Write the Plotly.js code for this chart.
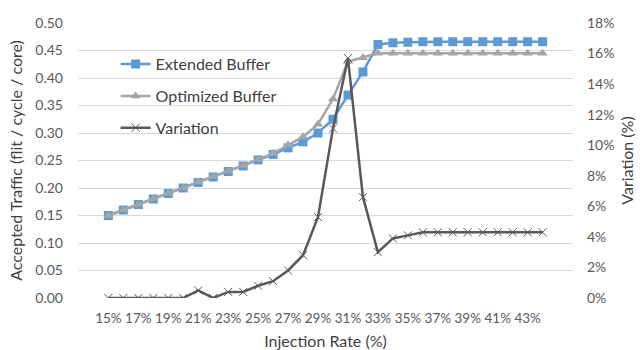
<!DOCTYPE html>
<html>
<head>
<meta charset="utf-8">
<script src="https://cdn.plot.ly/plotly-3.0.1.min.js"></script>
<style>html,body{margin:0;padding:0;background:#fff;}#chart{width:640px;height:350px;}</style>
</head>
<body>
<div id="chart"></div>
<script>
const injectionRates = ["15%","16%","17%","18%","19%","20%","21%","22%","23%","24%","25%","26%","27%","28%","29%","30%","31%","32%","33%","34%","35%","36%","37%","38%","39%","40%","41%","42%","43%","44%"];
const extendedBuffer = [0.150,0.160,0.170,0.180,0.190,0.200,0.210,0.220,0.230,0.240,0.251,0.261,0.273,0.284,0.300,0.325,0.369,0.411,0.461,0.464,0.465,0.466,0.466,0.466,0.466,0.466,0.466,0.466,0.466,0.466];
const optimizedBuffer = [0.150,0.160,0.170,0.180,0.190,0.200,0.211,0.221,0.231,0.241,0.252,0.263,0.278,0.293,0.316,0.362,0.430,0.437,0.445,0.445,0.445,0.445,0.445,0.445,0.445,0.445,0.445,0.445,0.445,0.445];
const variation = [0,0,0,0,0,0,0.5,0,0.4,0.4,0.8,1.1,1.8,2.8,5.3,11.1,15.7,6.6,3.0,3.9,4.1,4.3,4.3,4.3,4.3,4.3,4.3,4.3,4.3,4.3];
const tickLabels = ["15%","17%","19%","21%","23%","25%","27%","29%","31%","33%","35%","37%","39%","41%","43%"];

const fam = "Lato, 'Open Sans', sans-serif";
const tickFont = {family: fam, size: 14, color: "#595959"};
const xTickFont = {family: fam, size: 13.5, color: "#595959"};
const titleFont = {family: fam, size: 16, color: "#404040"};

const traces = [
  {x: injectionRates, y: extendedBuffer, name: "Extended Buffer", type: "scatter", mode: "lines+markers",
   line: {color: "#5b9bd5", width: 2.5}, marker: {symbol: "square", size: 9, color: "#5b9bd5"}, legendgroup: "a"},
  {x: injectionRates, y: optimizedBuffer, name: "Optimized Buffer", type: "scatter", mode: "lines+markers",
   line: {color: "#a5a5a5", width: 2.5}, marker: {symbol: "triangle-up", size: 9, color: "#a5a5a5"}, legendgroup: "b"},
  {x: injectionRates, y: variation, name: "Variation", type: "scatter", mode: "lines+markers", yaxis: "y2",
   line: {color: "#595959", width: 2.5}, marker: {symbol: "x-thin-open", size: 8, color: "#595959", line: {width: 1, color: "#595959"}}, legendgroup: "c"}
];

const layout = {
  width: 640, height: 350,
  margin: {l: 78, r: 67, t: 23, b: 52},
  paper_bgcolor: "#fff", plot_bgcolor: "#fff",
  font: tickFont,
  showlegend: true,
  legend: {x: 0.076, y: 0.912, xanchor: "left", yanchor: "top", bgcolor: "rgba(255,255,255,0)",
           font: {family: fam, size: 16, color: "#404040"}, traceorder: "grouped", tracegroupgap: 8},
  xaxis: {type: "category", tickmode: "array", tickvals: tickLabels, ticktext: tickLabels, tickfont: xTickFont, tickangle: 0,
          showgrid: false, zeroline: false, showline: false, ticks: "", ticklabelstandoff: 10,
          title: {text: "Injection Rate (%)", font: titleFont, standoff: 11}},
  yaxis: {range: [0, 0.5], dtick: 0.05, tickformat: ".2f", tickfont: tickFont, showgrid: true, gridcolor: "#d9d9d9", gridwidth: 1,
          zeroline: false, showline: false, ticks: "", ticklabelstandoff: 14,
          title: {text: "Accepted Traffic (flit / cycle / core)", font: titleFont, standoff: 8}},
  yaxis2: {range: [0, 18], dtick: 2, ticksuffix: "%", tickfont: tickFont, overlaying: "y", side: "right", showgrid: false,
           zeroline: false, showline: false, ticks: "", ticklabelstandoff: 13,
           title: {text: "Variation (%)", font: titleFont, standoff: 8}}
};

Plotly.newPlot("chart", traces, layout, {displayModeBar: false, staticPlot: true});
</script>
</body>
</html>
